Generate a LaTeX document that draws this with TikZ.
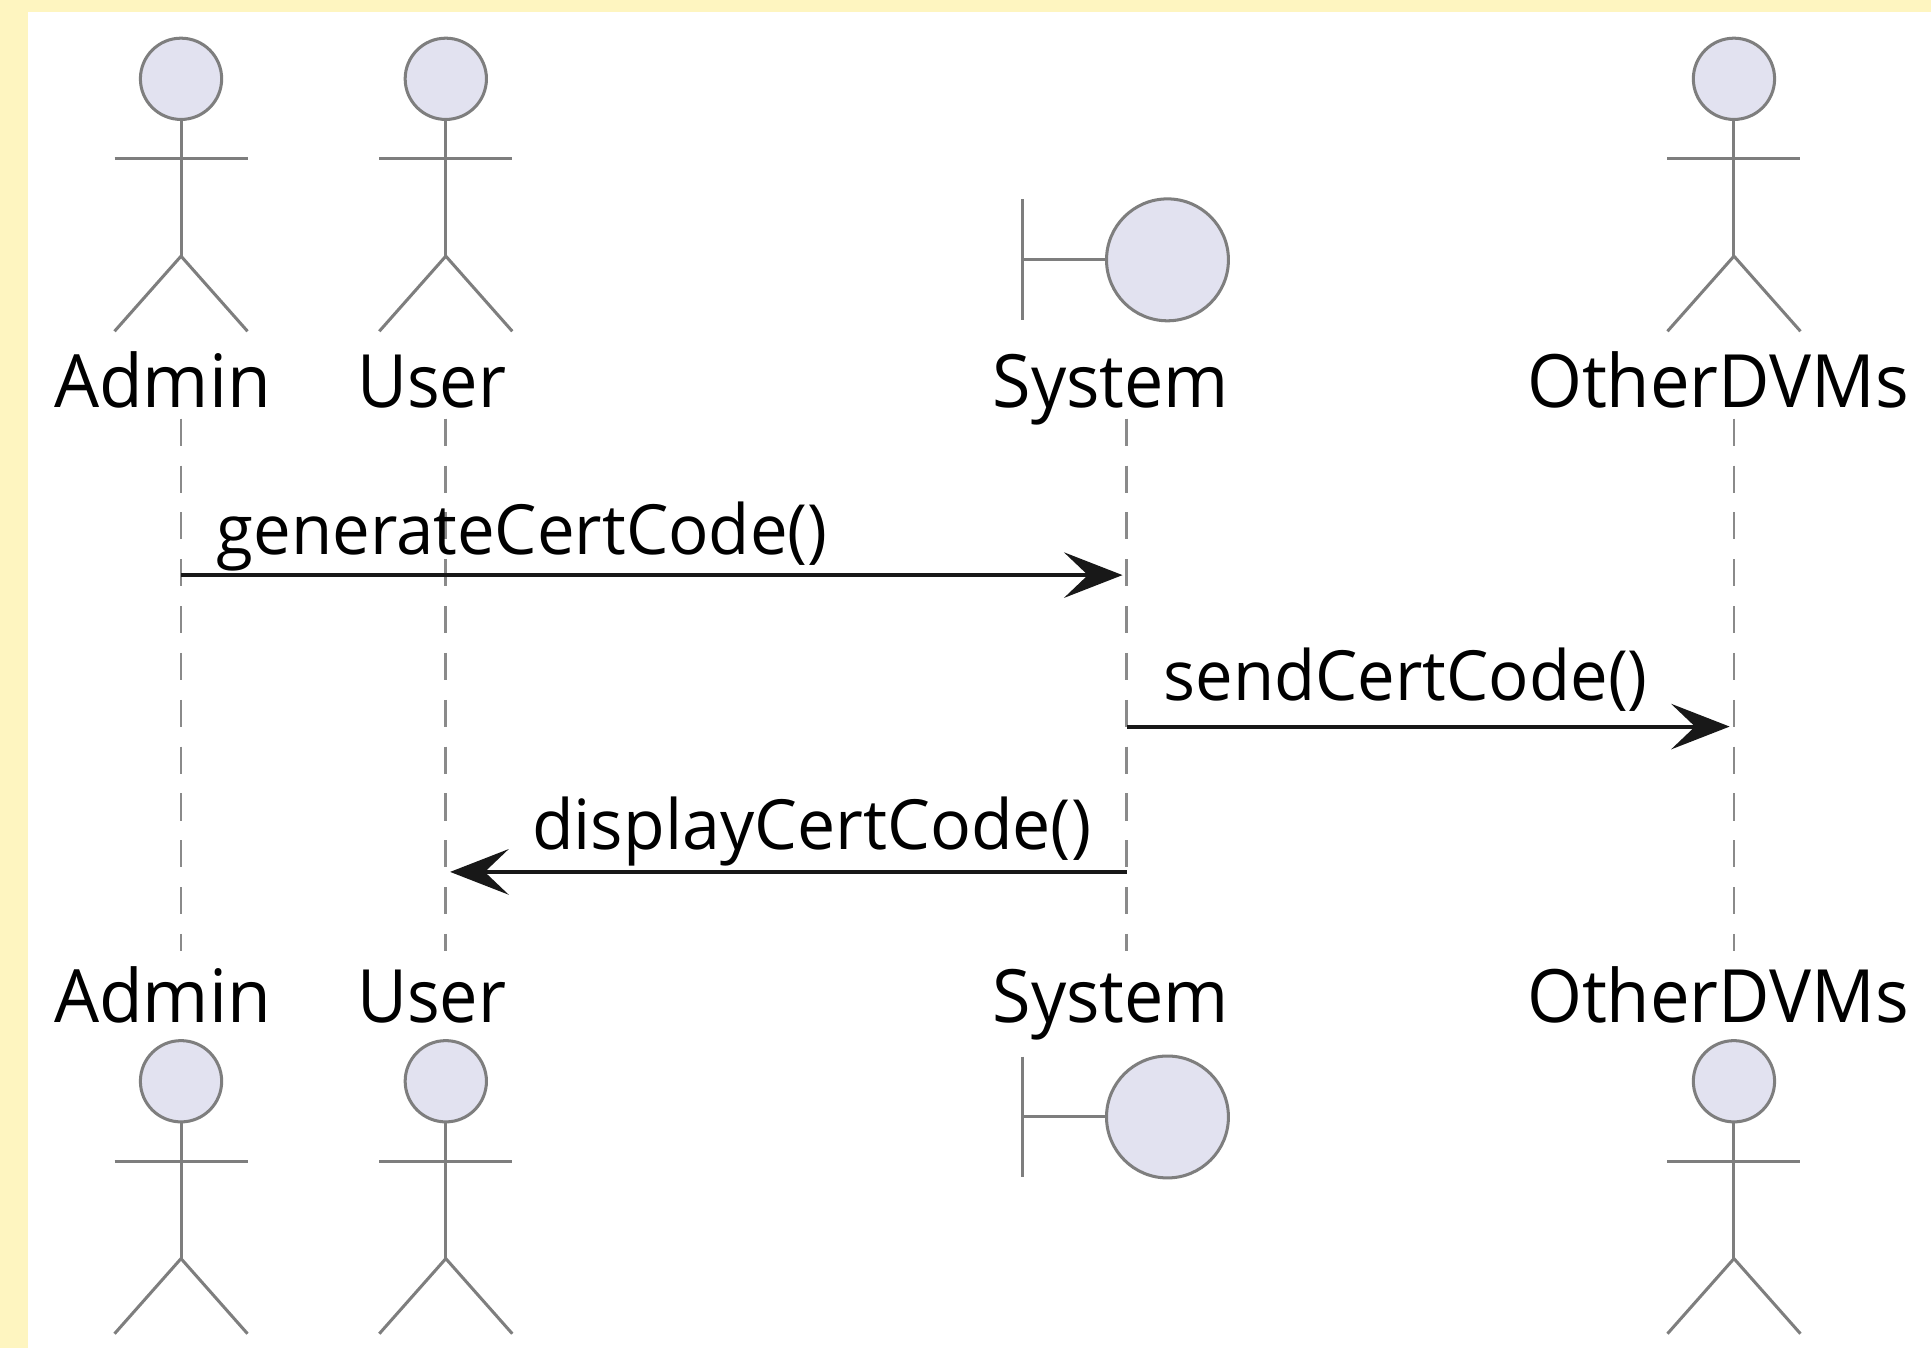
\documentclass[tikz,border=0pt]{standalone}
\usepackage{graphicx}
\usepackage{fontspec}
\setmainfont{Open Sans}
\usetikzlibrary{arrows.meta}
\definecolor{pagebg}{HTML}{FEF5C0}
\definecolor{actfill}{HTML}{E2E2F0}
\definecolor{actline}{HTML}{7E7E7E}
\definecolor{lifeline}{HTML}{8A8A8A}
\definecolor{msgline}{HTML}{181818}
\newdimen\unitdim
\unitdim=0.02cm
\newcommand{\fitw}[2]{\resizebox{#1\unitdim}{\height}{#2}}
\tikzset{
  x=0.02cm,y=-0.02cm,
  head/.style={circle,draw=actline,fill=actfill,line width=1.4pt,inner sep=0pt,minimum size=66*0.02cm},
  bighead/.style={circle,draw=actline,fill=actfill,line width=1.4pt,inner sep=0pt,minimum size=99*0.02cm},
  limb/.style={draw=actline,line width=1.4pt},
  life/.style={draw=lifeline,line width=1.3pt,dash pattern=on 12.5pt off 9.15pt},
  msg/.style={draw=msgline,line width=1.9pt,-{Stealth[length=27pt,width=21pt,inset=11pt]},shorten >=2pt},
  part/.style={anchor=base west,inner sep=0pt,outer sep=0pt,text=black,font=\fontsize{34pt}{34pt}\selectfont},
  call/.style={anchor=base west,inner sep=0pt,outer sep=0pt,text=black,font=\fontsize{32pt}{32pt}\selectfont},
  actor/.pic={
    \node[head] (-h) at (0,0) {};
    \coordinate (-b) at (0,144);
    \coordinate (-la) at (-54,65);
    \coordinate (-ra) at (54,65);
    \coordinate (-ll) at (-54,205);
    \coordinate (-rl) at (54,205);
    \draw[limb] (-h.south) -- (-b);
    \draw[limb] (-la) -- (-ra);
    \draw[limb] (-ll) -- (-b) -- (-rl);
  },
  boundary/.pic={
    \node[bighead] (-c) at (0,0) {};
    \coordinate (-j) at (-118,0);
    \coordinate (-t) at (-118,-49);
    \coordinate (-e) at (-118,49);
    \draw[limb] (-c.west) -- (-j);
    \draw[limb] (-t) -- (-e);
  }
}
\begin{document}
\begin{tikzpicture}
\useasboundingbox (0,0) rectangle (1568,1094.6);
\fill[pagebg] (0,0) rectangle (1568,1094.6);
\fill[white] (23,10) rectangle (1568,1094.6);

% lifeline ends
\coordinate (at) at (147,340); \coordinate (ab) at (147,772);
\coordinate (ut) at (362,340); \coordinate (ub) at (362,772);
\coordinate (st) at (915,340); \coordinate (sb) at (915,772);
\coordinate (ot) at (1408,340); \coordinate (ob) at (1408,772);
\draw[life] (at) -- (ab);
\draw[life] (ut) -- (ub);
\draw[life] (st) -- (sb);
\draw[life] (ot) -- (ob);

% top participants
\pic (adminT) at (147,64) {actor};
\pic (userT) at (362,64) {actor};
\pic (sysT) at (948,211) {boundary};
\pic (otherT) at (1408,64) {actor};
\node[part] (lblA1) at (44,331) {\fitw{176}{Admin}};
\node[part] (lblU1) at (290,331) {\fitw{121}{User}};
\node[part] (lblS1) at (806,331) {\fitw{192}{System}};
\node[part] (lblO1) at (1240,331) {\fitw{310}{OtherDVMs}};

% bottom participants
\node[part] (lblA2) at (44,830) {\fitw{176}{Admin}};
\node[part] (lblU2) at (290,830) {\fitw{121}{User}};
\node[part] (lblS2) at (806,830) {\fitw{192}{System}};
\node[part] (lblO2) at (1240,830) {\fitw{310}{OtherDVMs}};
\pic (adminB) at (147,878) {actor};
\pic (userB) at (362,878) {actor};
\pic (sysB) at (948,907) {boundary};
\pic (otherB) at (1408,878) {actor};

% messages
\coordinate (m1a) at (at |- 0,467); \coordinate (m1s) at (st |- 0,467);
\coordinate (m2s) at (st |- 0,590); \coordinate (m2o) at (ot |- 0,590);
\coordinate (m3s) at (st |- 0,708); \coordinate (m3u) at (ut |- 0,708);
\draw[msg] (m1a) -- (m1s);
\draw[msg] (m2s) -- (m2o);
\draw[msg] (m3s) -- (m3u);
\node[call] (c1) at (176,450) {\fitw{496}{generateCertCode()}};
\node[call] (c2) at (945,569) {\fitw{393}{sendCertCode()}};
\node[call] (c3) at (432,690) {\fitw{454}{displayCertCode()}};
\end{tikzpicture}
\end{document}
